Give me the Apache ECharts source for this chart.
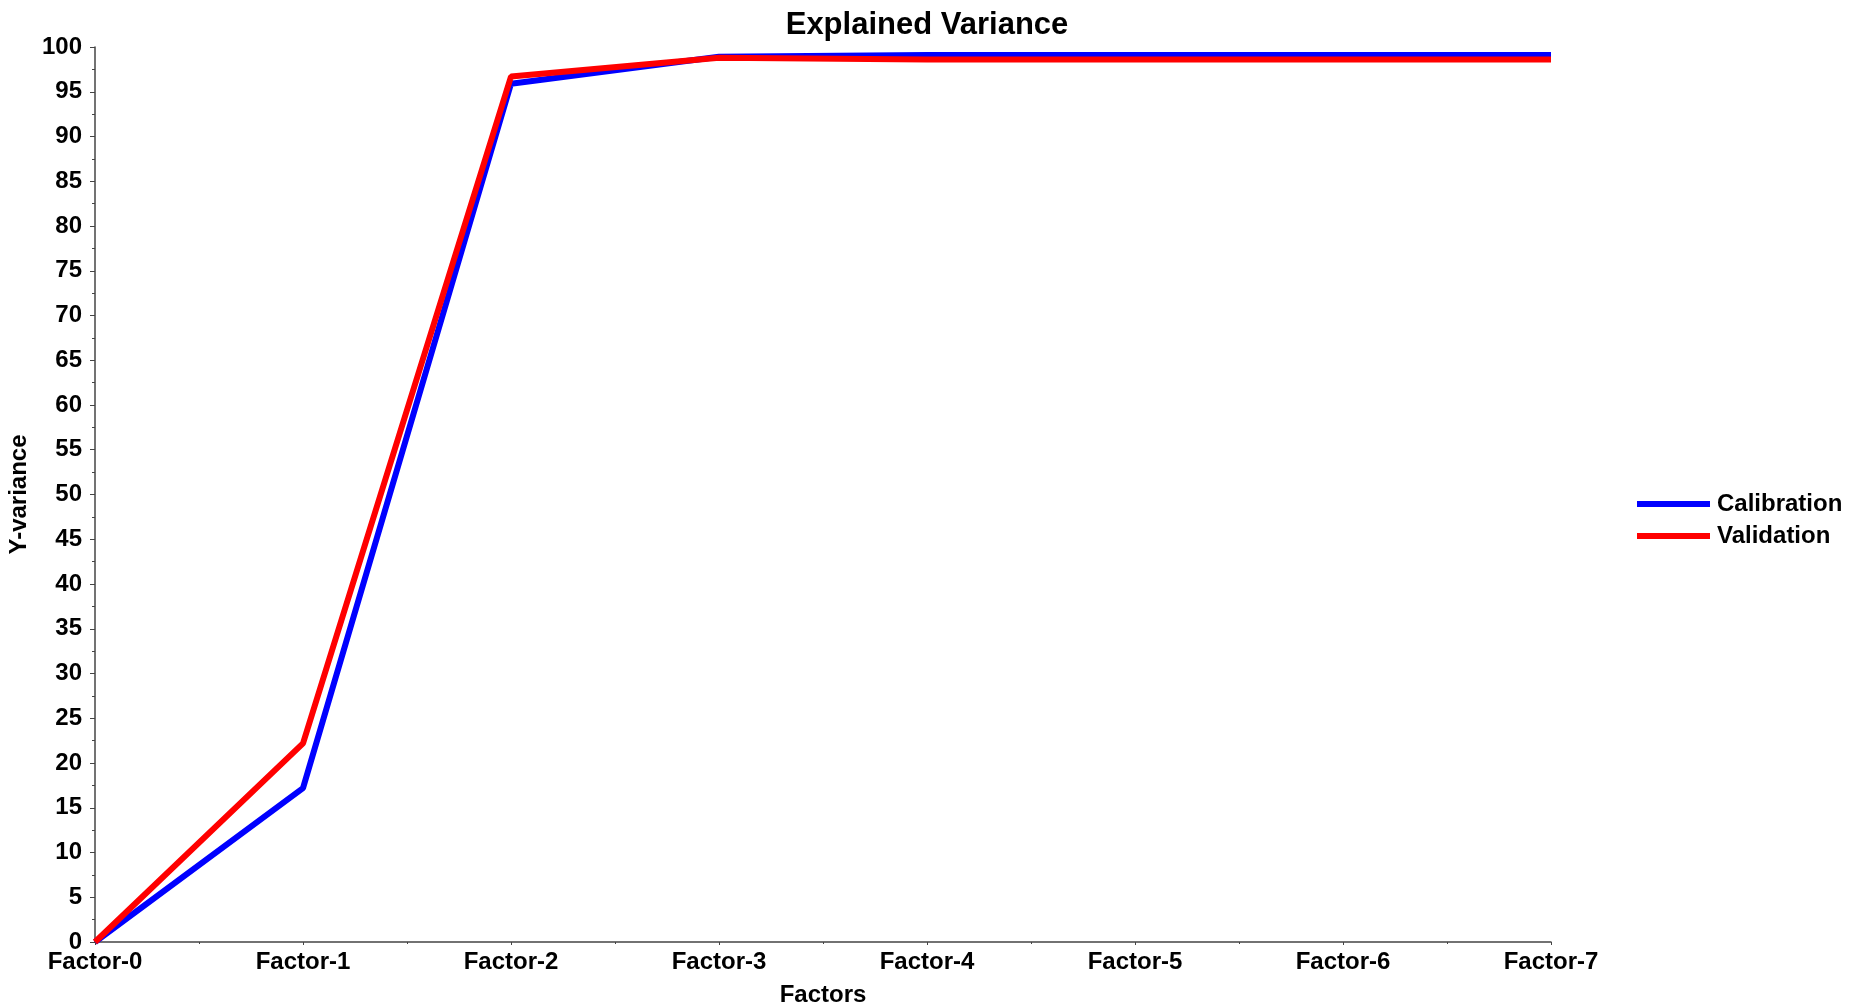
<!DOCTYPE html>
<html>
<head>
<meta charset="utf-8">
<script src="https://cdn.jsdelivr.net/npm/echarts@6/dist/echarts.min.js"></script>
<style>html,body{margin:0;padding:0;background:#fff}#c{width:1856px;height:1007px}</style>
</head>
<body>
<div id="c"></div>
<script>
const categories = ['Factor-0','Factor-1','Factor-2','Factor-3','Factor-4','Factor-5','Factor-6','Factor-7'];
const calibration = [0, 17.2, 95.9, 98.9, 99.1, 99.1, 99.1, 99.1];
const validation  = [0, 22.2, 96.7, 98.8, 98.6, 98.6, 98.6, 98.6];
const seriesNames = ['Calibration', 'Validation'];

const FONT = '"Liberation Sans", Arial, sans-serif';
const chart = echarts.init(document.getElementById('c'));
const toPairs = arr => arr.map((v, i) => [i, v]);
chart.setOption({
  animation: false,
  backgroundColor: '#fff',
  title: {
    text: 'Explained Variance', left: 922, textAlign: 'center', top: 5,
    textStyle: { fontFamily: FONT, fontWeight: 'bold', fontSize: 31, color: '#000' }
  },
  legend: {
    orient: 'vertical', left: 1632, top: 487, itemWidth: 73, itemHeight: 6, itemGap: 8,
    icon: 'rect',
    textStyle: { fontFamily: FONT, fontWeight: 'bold', fontSize: 24, color: '#000', padding: [0,0,0,2] },
    data: seriesNames
  },
  grid: { left: 95, right: 305, top: 47, bottom: 65, containLabel: false, outerBoundsMode: 'none' },
  xAxis: {
    type: 'value', min: 0, max: 7, interval: 1,
    name: 'Factors', nameLocation: 'middle', nameGap: 41,
    nameTextStyle: { fontFamily: FONT, fontWeight: 'bold', fontSize: 24, color: '#000' },
    axisLine: { lineStyle: { color: '#444', width: 1.5 } },
    axisTick: { show: true, length: 3, lineStyle: { color: '#444' } },
    minorTick: { show: true, splitNumber: 2, length: 2, lineStyle: { color: '#444' } },
    splitLine: { show: false },
    axisLabel: { margin: 8, fontFamily: FONT, fontWeight: 'bold', fontSize: 24, color: '#000',
      formatter: v => categories[v] },
  },
  yAxis: {
    type: 'value', min: 0, max: 100, interval: 5,
    name: 'Y-variance', nameLocation: 'middle', nameGap: 58, nameRotate: 90,
    nameTextStyle: { fontFamily: FONT, fontWeight: 'bold', fontSize: 24, color: '#000' },
    axisLine: { show: true, lineStyle: { color: '#444', width: 1.5 } },
    axisTick: { show: true, length: 5, lineStyle: { color: '#444' } },
    minorTick: { show: true, splitNumber: 2, length: 3, lineStyle: { color: '#444' } },
    splitLine: { show: false },
    axisLabel: { margin: 13, fontFamily: FONT, fontWeight: 'bold', fontSize: 24, color: '#000' }
  },
  series: [
    { name: seriesNames[0], type: 'line', data: toPairs(calibration), showSymbol: false, symbol: 'none',
      lineStyle: { color: '#0000ff', width: 6 }, itemStyle: { color: '#0000ff' }, z: 2 },
    { name: seriesNames[1], type: 'line', data: toPairs(validation), showSymbol: false, symbol: 'none',
      lineStyle: { color: '#ff0000', width: 6 }, itemStyle: { color: '#ff0000' }, z: 3 }
  ]
});
</script>
</body>
</html>
